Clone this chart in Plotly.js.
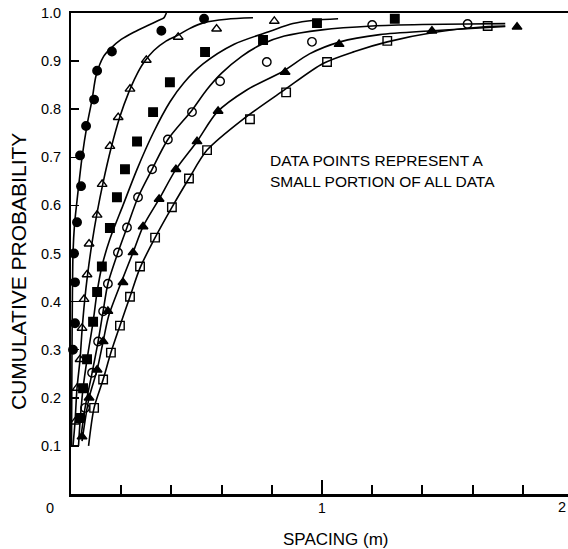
<!DOCTYPE html>
<html>
<head>
<meta charset="utf-8">
<script src="https://cdn.plot.ly/plotly-3.0.1.min.js"></script>
<style>html,body{margin:0;padding:0;background:#fff;}</style>
</head>
<body>
<div id="chart" style="width:568px;height:549px;"></div>
<script>
// Series 1: filled circles
const ptX1 = [0.008, 0.016, 0.016, 0.012, 0.024, 0.040, 0.036, 0.060, 0.092, 0.104, 0.163, 0.360, 0.530];
const ptY1 = [0.300, 0.355, 0.440, 0.500, 0.565, 0.640, 0.704, 0.765, 0.820, 0.880, 0.920, 0.963, 0.988];
const crX1 = [0.002, 0.004, 0.008, 0.014, 0.024, 0.044, 0.065, 0.084, 0.100, 0.130, 0.155, 0.200, 0.250, 0.310, 0.350, 0.370, 0.380];
const crY1 = [0.100, 0.300, 0.500, 0.560, 0.610, 0.700, 0.770, 0.820, 0.870, 0.910, 0.925, 0.945, 0.960, 0.975, 0.985, 0.990, 1.000];

// Series 2: open triangles
const ptX2 = [0.016, 0.024, 0.036, 0.044, 0.052, 0.064, 0.072, 0.104, 0.124, 0.155, 0.188, 0.235, 0.300, 0.427, 0.580, 0.810];
const ptY2 = [0.150, 0.220, 0.280, 0.345, 0.405, 0.456, 0.520, 0.580, 0.644, 0.723, 0.783, 0.842, 0.902, 0.950, 0.967, 0.983];
const crX2 = [0.008, 0.016, 0.024, 0.036, 0.044, 0.054, 0.066, 0.084, 0.104, 0.128, 0.160, 0.195, 0.230, 0.260, 0.290, 0.330, 0.380, 0.430, 0.470, 0.530, 0.620, 0.725];
const crY2 = [0.100, 0.150, 0.220, 0.280, 0.340, 0.400, 0.456, 0.523, 0.585, 0.648, 0.720, 0.785, 0.835, 0.870, 0.897, 0.922, 0.942, 0.955, 0.967, 0.980, 0.987, 0.990];

// Series 3: filled squares
const ptX3 = [0.036, 0.048, 0.064, 0.088, 0.104, 0.123, 0.155, 0.183, 0.215, 0.263, 0.327, 0.394, 0.534, 0.765, 0.980, 1.290];
const ptY3 = [0.158, 0.220, 0.280, 0.358, 0.420, 0.473, 0.553, 0.617, 0.675, 0.733, 0.794, 0.856, 0.919, 0.944, 0.979, 0.988];
const crX3 = [0.030, 0.036, 0.048, 0.064, 0.088, 0.104, 0.123, 0.155, 0.207, 0.263, 0.327, 0.394, 0.450, 0.526, 0.650, 0.793, 0.884, 0.970, 1.064];
const crY3 = [0.100, 0.150, 0.220, 0.280, 0.358, 0.420, 0.473, 0.530, 0.600, 0.675, 0.750, 0.815, 0.855, 0.894, 0.935, 0.962, 0.978, 0.985, 0.988];

// Series 4: open circles
const ptX4 = [0.056, 0.084, 0.108, 0.128, 0.147, 0.187, 0.223, 0.267, 0.323, 0.386, 0.482, 0.594, 0.780, 0.960, 1.200, 1.580];
const ptY4 = [0.179, 0.252, 0.317, 0.380, 0.437, 0.502, 0.554, 0.617, 0.675, 0.737, 0.794, 0.858, 0.898, 0.940, 0.975, 0.977];
const crX4 = [0.040, 0.056, 0.084, 0.108, 0.128, 0.147, 0.187, 0.223, 0.267, 0.323, 0.386, 0.482, 0.540, 0.600, 0.680, 0.760, 0.850, 1.000, 1.200, 1.400, 1.580, 1.730];
const crY4 = [0.120, 0.179, 0.252, 0.317, 0.380, 0.437, 0.502, 0.554, 0.617, 0.675, 0.737, 0.798, 0.840, 0.875, 0.910, 0.935, 0.952, 0.965, 0.973, 0.976, 0.977, 0.978];

// Series 5: filled triangles
const ptX5 = [0.044, 0.072, 0.104, 0.128, 0.147, 0.207, 0.247, 0.287, 0.351, 0.418, 0.502, 0.586, 0.853, 1.068, 1.438, 1.777];
const ptY5 = [0.119, 0.200, 0.258, 0.317, 0.380, 0.440, 0.502, 0.556, 0.613, 0.675, 0.733, 0.796, 0.877, 0.935, 0.963, 0.971];
const crX5 = [0.044, 0.072, 0.104, 0.128, 0.150, 0.200, 0.247, 0.287, 0.351, 0.418, 0.502, 0.582, 0.700, 0.845, 0.950, 1.072, 1.230, 1.438, 1.730];
const crY5 = [0.110, 0.200, 0.258, 0.317, 0.370, 0.440, 0.502, 0.556, 0.613, 0.675, 0.733, 0.794, 0.840, 0.879, 0.915, 0.940, 0.955, 0.963, 0.972];

// Series 6: open squares
const ptX6 = [0.092, 0.128, 0.159, 0.195, 0.235, 0.275, 0.335, 0.402, 0.470, 0.542, 0.713, 0.857, 1.020, 1.260, 1.660];
const ptY6 = [0.179, 0.238, 0.294, 0.350, 0.410, 0.473, 0.533, 0.596, 0.656, 0.715, 0.779, 0.835, 0.898, 0.942, 0.973];
const crX6 = [0.070, 0.092, 0.128, 0.159, 0.195, 0.235, 0.275, 0.335, 0.402, 0.470, 0.542, 0.685, 0.850, 1.004, 1.130, 1.260, 1.450, 1.660, 1.730];
const crY6 = [0.100, 0.179, 0.238, 0.294, 0.350, 0.410, 0.470, 0.533, 0.596, 0.656, 0.715, 0.779, 0.840, 0.895, 0.920, 0.940, 0.960, 0.972, 0.973];

const yTickVals = [0.1, 0.2, 0.3, 0.4, 0.5, 0.6, 0.7, 0.8, 0.9, 1.0];
const yTickText = ["0.1", "0.2", "0.3", "0.4", "0.5", "0.6", "0.7", "0.8", "0.9", "1.0"];
const xTickVals = [1];
const xTickText = ["1"];

const series = [
  {px: ptX1, py: ptY1, cx: crX1, cy: crY1, sym: "circle"},
  {px: ptX2, py: ptY2, cx: crX2, cy: crY2, sym: "triangle-up-open"},
  {px: ptX3, py: ptY3, cx: crX3, cy: crY3, sym: "square"},
  {px: ptX4, py: ptY4, cx: crX4, cy: crY4, sym: "circle-open"},
  {px: ptX5, py: ptY5, cx: crX5, cy: crY5, sym: "triangle-up"},
  {px: ptX6, py: ptY6, cx: crX6, cy: crY6, sym: "square-open"}
];

const traces = [];
series.forEach(s => {
  traces.push({x: s.cx, y: s.cy, mode: "lines", type: "scatter",
    line: {color: "#000", width: 1.6, shape: "spline", smoothing: 0.8},
    hoverinfo: "skip", showlegend: false, cliponaxis: true});
  traces.push({x: s.px, y: s.py, mode: "markers", type: "scatter",
    marker: {symbol: s.sym, size: 8.5, color: "#000", line: {color: "#000", width: 1.4}},
    showlegend: false, cliponaxis: false});
});

const font = "Liberation Sans, Arial, Helvetica, sans-serif";
const layout = {
  width: 568, height: 549,
  margin: {l: 71, r: 0, t: 13, b: 55, pad: 0},
  paper_bgcolor: "#fff", plot_bgcolor: "#fff",
  showlegend: false,
  font: {family: font, color: "#000"},
  xaxis: {
    range: [0, 1.98], showgrid: false, zeroline: false,
    showline: true, linecolor: "#000", linewidth: 2.5, mirror: true,
    ticks: "inside", ticklen: 14, tickwidth: 2, tickcolor: "#000",
    tickvals: xTickVals, ticktext: xTickText,
    tickfont: {size: 14, family: font, color: "#000"},
    minor: {dtick: 0.2, tick0: 0, ticks: "inside", ticklen: 9, tickwidth: 2, tickcolor: "#000", showgrid: false}
  },
  yaxis: {
    range: [0, 1.0], showgrid: false, zeroline: false,
    showline: true, linecolor: "#000", linewidth: 2, mirror: false,
    ticks: "inside", ticklen: 8, tickwidth: 1.5, tickcolor: "#000",
    tickvals: yTickVals, ticktext: yTickText,
    ticklabelstandoff: 5,
    tickfont: {size: 14.5, family: font, color: "#000"}
  },
  annotations: [
    {xref: "x", yref: "y", x: 0.785, y: 0.694, xanchor: "left", yanchor: "middle",
     text: "DATA POINTS REPRESENT A", showarrow: false, font: {size: 15.5, family: font, color: "#000"}},
    {xref: "x", yref: "y", x: 0.785, y: 0.650, xanchor: "left", yanchor: "middle",
     text: "SMALL PORTION OF ALL DATA", showarrow: false, font: {size: 15.5, family: font, color: "#000"}},
    {xref: "paper", yref: "paper", x: -0.043, y: -0.03, xanchor: "center", yanchor: "middle",
     text: "0", showarrow: false, font: {size: 14.5, family: font, color: "#000"}},
    {xref: "paper", yref: "paper", x: 0.988, y: -0.028, xanchor: "center", yanchor: "middle",
     text: "2", showarrow: false, font: {size: 14.5, family: font, color: "#000"}},
    {xref: "paper", yref: "paper", x: -0.1066, y: 0.4615, xanchor: "center", yanchor: "middle", textangle: -90,
     text: "CUMULATIVE PROBABILITY", showarrow: false, font: {size: 21, family: font, color: "#000"}},
    {xref: "paper", yref: "paper", x: 0.533, y: -0.0956, xanchor: "center", yanchor: "middle",
     text: "SPACING (m)", showarrow: false, font: {size: 17, family: font, color: "#000"}}
  ]
};

Plotly.newPlot("chart", traces, layout, {displayModeBar: false, staticPlot: true});
</script>
</body>
</html>
